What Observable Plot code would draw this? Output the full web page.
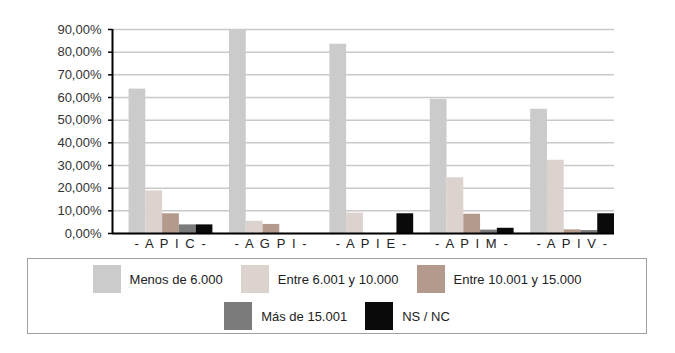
<!DOCTYPE html>
<html>
<head>
<meta charset="utf-8">
<script src="https://cdn.jsdelivr.net/npm/d3@7"></script>
<script src="https://cdn.jsdelivr.net/npm/@observablehq/plot@0.6"></script>
<style>
  html, body { margin: 0; padding: 0; background: #fff; }
  body { width: 675px; height: 353px; position: relative; overflow: hidden; font-family: "Liberation Sans", Arial, sans-serif; }
  #chart { position: absolute; left: 0; top: 0; width: 675px; height: 253px; }
  #chart svg { position: absolute; left: 0; top: 0; background: transparent; }
  #chart .fxaxis text { letter-spacing: 1.6px; }
  #legend { position: absolute; left: 27px; top: 258px; width: 620px; height: 76px; border: 1px solid #a0a0a0; box-sizing: border-box; }
  .row { position: absolute; left: 0; width: 100%; display: flex; justify-content: center; align-items: center; }
  .item { display: flex; align-items: center; margin: 0 9px; font-size: 13px; color: #222; }
  .sw { width: 28px; height: 28px; margin-right: 9px; }
</style>
</head>
<body>
<div id="chart"></div>
<div id="legend"></div>
<script>
const groups = ["APIC", "AGPI", "APIE", "APIM", "APIV"];
const series = ["Menos de 6.000", "Entre 6.001 y 10.000", "Entre 10.001 y 15.000", "Más de 15.001", "NS / NC"];
const colors = ["#cbcbcb", "#dcd3ce", "#b39a8c", "#7b7b7b", "#0a0a0a"];
const menos6000 = [63.7, 90.0, 83.5, 59.2, 54.8];
const entre6001 = [18.8, 5.4, 9.0, 24.6, 32.3];
const entre10001 = [8.7, 4.0, 0, 8.5, 1.6];
const mas15001 = [3.8, 0, 0, 1.5, 1.3];
const nsnc = [3.8, 0, 8.7, 2.3, 8.7];
const yTicks = [0, 10, 20, 30, 40, 50, 60, 70, 80, 90];

const seriesValues = [menos6000, entre6001, entre10001, mas15001, nsnc];
const rows = [];
groups.forEach((g, gi) => series.forEach((s, si) => rows.push({group: g, series: s, value: seriesValues[si][gi]})));

const common = {
  width: 675, height: 253,
  marginLeft: 112, marginRight: 61, marginTop: 29, marginBottom: 20,
  style: {fontFamily: "'Liberation Sans', Arial, sans-serif", fontSize: "13px", background: "transparent"}
};

const back = Plot.plot({
  ...common,
  x: {domain: [0, 1], axis: null},
  y: {domain: [0, 90], axis: null},
  marks: [
    Plot.ruleY(yTicks, {stroke: "#c9c9c9", strokeWidth: 1.5}),
    Plot.axisY(yTicks, {tickSize: 4, tickPadding: 7, stroke: "#000", strokeWidth: 1.5, color: "#333",
      tickFormat: d => d.toFixed(2).replace(".", ",") + "%", fontSize: 13})
  ]
});

const front = Plot.plot({
  ...common,
  facet: {marginTop: 0, marginBottom: 0, marginLeft: 0, marginRight: 0},
  fx: {domain: groups, paddingInner: 0.165, paddingOuter: 0.0825, align: 1, round: false, label: null, axis: null},
  x: {domain: series, paddingInner: 0, paddingOuter: 0, round: false, axis: null},
  y: {domain: [0, 90], axis: null},
  color: {domain: series, range: colors},
  marks: [
    Plot.barY(rows, {fx: "group", x: "series", y: "value", fill: "series", inset: 0}),
    Plot.axisFx({anchor: "bottom", tickSize: 0, tickPadding: 5, fontSize: 13, color: "#222", className: "fxaxis",
      tickFormat: d => "- " + d.split("").join(" ") + " -", label: null})
  ]
});

const axesLines = Plot.plot({
  ...common,
  x: {domain: [0, 1], axis: null},
  y: {domain: [0, 90], axis: null},
  marks: [
    Plot.ruleX([0], {y1: 0, y2: 90, stroke: "#000", strokeWidth: 2}),
    Plot.ruleY([0], {stroke: "#000", strokeWidth: 2})
  ]
});

const chart = document.getElementById("chart");
chart.appendChild(back);
chart.appendChild(front);
chart.appendChild(axesLines);

// Legend
const legend = document.getElementById("legend");
const rowsDef = [[0, 1, 2], [3, 4]];
const tops = [6, 43];
rowsDef.forEach((idxs, r) => {
  const row = document.createElement("div");
  row.className = "row";
  row.style.top = tops[r] + "px";
  idxs.forEach(i => {
    const it = document.createElement("div");
    it.className = "item";
    const sw = document.createElement("div");
    sw.className = "sw";
    sw.style.background = colors[i];
    const tx = document.createElement("span");
    tx.textContent = series[i];
    it.appendChild(sw);
    it.appendChild(tx);
    row.appendChild(it);
  });
  legend.appendChild(row);
});
</script>
</body>
</html>
